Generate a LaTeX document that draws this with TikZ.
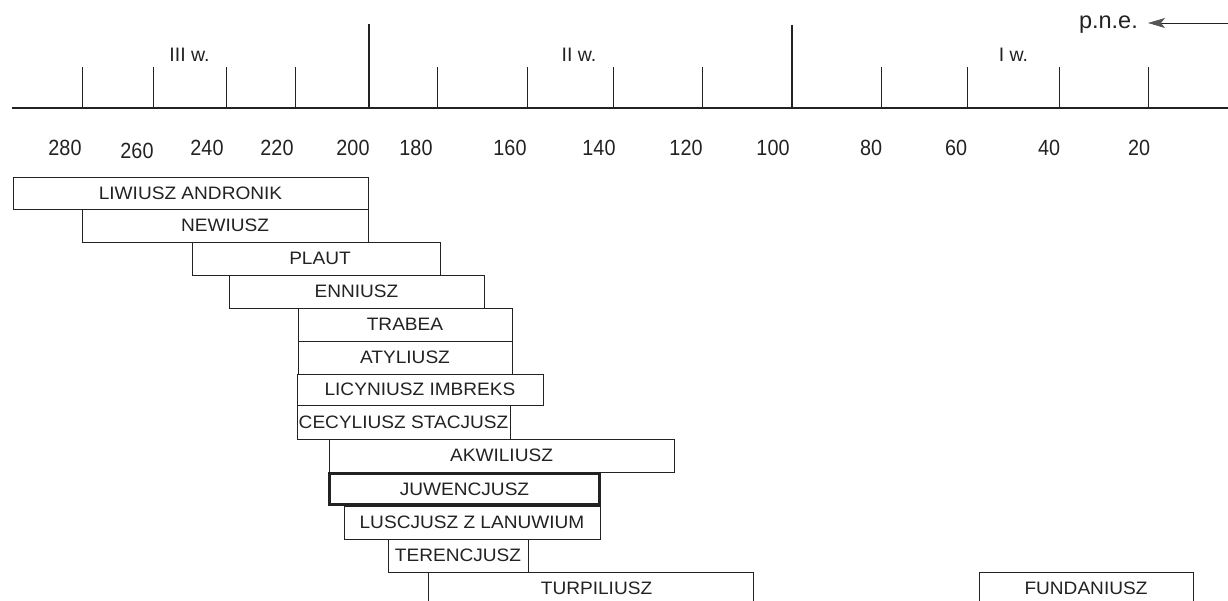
\documentclass[tikz,border=0pt]{standalone}
\usepackage{fontspec}
\setmainfont{Liberation Sans}
\newfontfamily\boxfont[FakeStretch=1.06]{Liberation Sans}
\newfontfamily\numfont[FakeStretch=0.9]{Liberation Sans}
\usetikzlibrary{arrows.meta}
\definecolor{ink}{HTML}{222222}
\definecolor{headgray}{HTML}{555555}
\begin{document}
\begin{tikzpicture}[x=1pt,y=-1pt,
  era/.style={rectangle, draw=ink, line width=0.9pt, inner sep=0pt, outer sep=0pt,
    text=ink, font=\boxfont\fontsize{18}{20}\selectfont},
  boldera/.style={era, line width=2.6pt},
  yearlbl/.style={anchor=base, inner sep=0pt, text=ink, font=\numfont\fontsize{22}{24}\selectfont},
  century/.style={anchor=base, inner sep=0pt, text=ink, font=\fontsize{19.5}{21}\selectfont},
  tick/.style={draw=ink, line width=0.9pt},
  bigtick/.style={draw=ink, line width=1.1pt},
  axisline/.style={draw=ink, line width=1.2pt}]
\useasboundingbox (0,0) rectangle (1228,601);
\clip (0,0) rectangle (1228,601);

% axis
\coordinate (axL) at (12,108);
\coordinate (axR) at (1228,108);
\draw[axisline] (axL) -- (axR);
\foreach \x in {82,153,226,295,437,527,613,702,881,967,1059,1148}
  \draw[tick] (\x,67) -- (\x,108);
\draw[bigtick] (369,24) -- (369,108);
\draw[bigtick, line width=2pt] (792,25) -- (792,108);

% year labels
\node[yearlbl] (y280) at (65,156) {280};
\node[yearlbl] (y260) at (137,159) {260};
\node[yearlbl] (y240) at (207,156) {240};
\node[yearlbl] (y220) at (277,156) {220};
\node[yearlbl] (y200) at (353,156) {200};
\node[yearlbl] (y180) at (416,156) {180};
\node[yearlbl] (y160) at (510,156) {160};
\node[yearlbl] (y140) at (599,156) {140};
\node[yearlbl] (y120) at (686,156) {120};
\node[yearlbl] (y100) at (773,156) {100};
\node[yearlbl] (y80) at (871,156) {80};
\node[yearlbl] (y60) at (956,156) {60};
\node[yearlbl] (y40) at (1049,156) {40};
\node[yearlbl] (y20) at (1139,156) {20};

% centuries
\node[century] (c3) at (189.5,62) {III w.};
\node[century] (c2) at (579,62) {II w.};
\node[century] (c1) at (1013.5,62) {I w.};

% p.n.e. arrow
\node[anchor=base east, inner sep=0pt, text=ink, font=\fontsize{23.5}{25}\selectfont] (pne) at (1138,29) {p.n.e.};
\coordinate (arrR) at (1228,23);
\draw[draw=ink, line width=0.8pt, -{Stealth[length=17pt,width=10pt,inset=4pt,color=headgray]}]
  (arrR) -- ([xshift=10pt]pne.east |- arrR);

% authors
\node[era, minimum width=355pt, minimum height=32pt] (liw) at (190.5,193) {LIWIUSZ ANDRONIK};
\node[era, minimum width=286pt, minimum height=33pt] (new) at (225,225.5) {NEWIUSZ};
\node[era, minimum width=248pt, minimum height=33pt] (pla) at (316,258.5) {\hspace*{8pt}PLAUT};
\node[era, minimum width=255pt, minimum height=33pt] (enn) at (356.5,291.5) {ENNIUSZ};
\node[era, minimum width=214pt, minimum height=33pt] (tra) at (405,324.5) {TRABEA};
\node[era, minimum width=214pt, minimum height=33pt] (aty) at (405,357.5) {ATYLIUSZ};
\node[era, minimum width=246pt, minimum height=31pt] (lic) at (420,389.5) {LICYNIUSZ IMBREKS};
\node[era, minimum width=213pt, minimum height=34pt] (cec) at (403.5,422) {CECYLIUSZ STACJUSZ};
\node[era, minimum width=345pt, minimum height=33pt] (akw) at (501.5,455.5) {AKWILIUSZ};
\node[boldera, minimum width=270pt, minimum height=31pt] (juw) at (464.5,489) {JUWENCJUSZ};
\node[era, minimum width=256pt, minimum height=33pt] (lus) at (472,522.5) {LUSCJUSZ Z LANUWIUM};
\node[era, minimum width=140pt, minimum height=33pt] (ter) at (458,555.5) {TERENCJUSZ};
\node[era, minimum width=325pt, minimum height=33pt] (tur) at (590.5,588.5) {\hspace*{12pt}TURPILIUSZ};
\node[era, minimum width=214pt, minimum height=33pt] (fun) at (1086,588.5) {FUNDANIUSZ};
\end{tikzpicture}
\end{document}
